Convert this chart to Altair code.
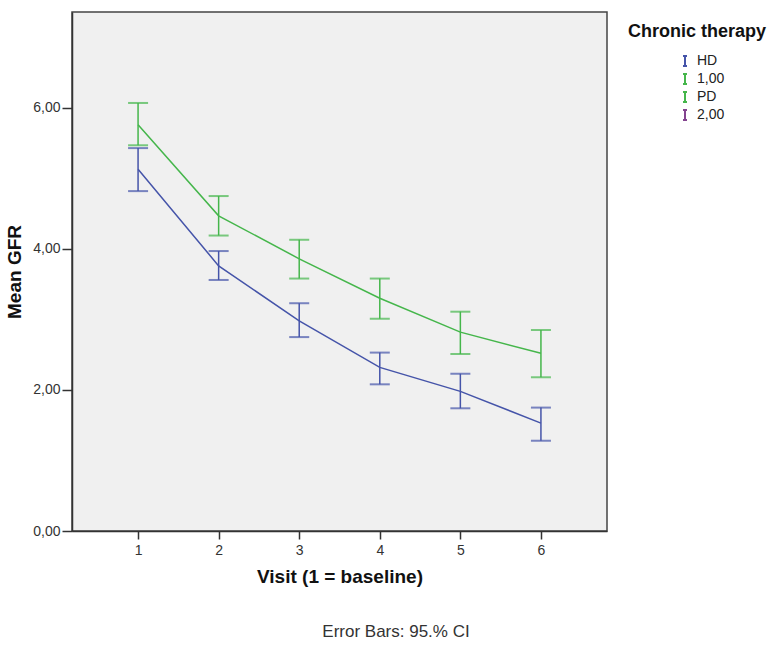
import altair as alt
import pandas as pd

visits = [1, 2, 3, 4, 5, 6]
hd_mean = [5.13, 3.76, 2.98, 2.32, 1.98, 1.53]
hd_lo = [4.82, 3.56, 2.75, 2.08, 1.74, 1.28]
hd_hi = [5.43, 3.97, 3.23, 2.53, 2.23, 1.75]
pd_mean = [5.76, 4.47, 3.86, 3.30, 2.82, 2.52]
pd_lo = [5.47, 4.19, 3.58, 3.01, 2.51, 2.18]
pd_hi = [6.07, 4.75, 4.13, 3.58, 3.11, 2.85]

groups = ["HD", "1,00", "PD", "2,00"]
colors = ["#4554A9", "#45B64B", "#45B64B", "#84448F"]

rows = []
for i, v in enumerate(visits):
    rows.append({"visit": v, "group": "HD", "mean": hd_mean[i], "lo": hd_lo[i], "hi": hd_hi[i]})
    rows.append({"visit": v, "group": "PD", "mean": pd_mean[i], "lo": pd_lo[i], "hi": pd_hi[i]})
df = pd.DataFrame(rows)

W, H = 535, 519

xscale = alt.Scale(domain=[0.18, 6.82], nice=False, zero=False)
yscale = alt.Scale(domain=[0, 7.36], nice=False)
cscale = alt.Scale(domain=groups, range=colors)

x = alt.X("visit:Q", scale=xscale,
          axis=alt.Axis(values=visits, format="d", title="Visit (1 = baseline)",
                        grid=False, tickSize=8, labelPadding=4, titlePadding=10,
                        labelFontSize=14))
y = alt.Y("mean:Q", scale=yscale,
          axis=alt.Axis(values=[0, 2, 4, 6], grid=False, tickSize=10, labelPadding=2,
                        labelExpr="replace(format(datum.value, '.2f'), '.', ',')",
                        title="Mean GFR", titlePadding=8, labelFontSize=14))

base = alt.Chart(df)

lines = base.mark_line(strokeWidth=1.5).encode(
    x=x, y=y,
    color=alt.Color("group:N", scale=cscale,
                    legend=alt.Legend(title=None, orient="none", legendX=606, legendY=42,
                                      symbolType="M-0.4,-1H0.4M0,-1V1M-0.4,1H0.4",
                                      symbolSize=100, symbolStrokeWidth=2,
                                      symbolFillColor="transparent",
                                      labelFontSize=14, labelFont="Liberation Sans",
                                      labelColor="#222", rowPadding=0, labelOffset=5)),
    detail="group:N",
)

rules = base.mark_rule(strokeWidth=1.5).encode(
    x="visit:Q",
    y=alt.Y("lo:Q", scale=yscale),
    y2="hi:Q",
    color=alt.Color("group:N", scale=cscale, legend=None),
)

caps_lo = base.mark_tick(orient="horizontal", size=20, thickness=2).encode(
    x="visit:Q",
    y=alt.Y("lo:Q", scale=yscale),
    color=alt.Color("group:N", scale=cscale, legend=None),
)
caps_hi = base.mark_tick(orient="horizontal", size=20, thickness=2).encode(
    x="visit:Q",
    y=alt.Y("hi:Q", scale=yscale),
    color=alt.Color("group:N", scale=cscale, legend=None),
)

ann = pd.DataFrame({"t": ["Chronic therapy", "Error Bars: 95.% CI"]})
title_txt = alt.Chart(ann).transform_filter("datum.t == 'Chronic therapy'").mark_text(
    font="Liberation Sans", fontSize=18, fontWeight="bold", align="left", baseline="middle", color="#111"
).encode(text="t:N", x=alt.value(556), y=alt.value(20))
foot_txt = alt.Chart(ann).transform_filter("datum.t != 'Chronic therapy'").mark_text(
    font="Liberation Sans", fontSize=17, align="center", baseline="middle", color="#333"
).encode(text="t:N", x=alt.value(324), y=alt.value(620))

chart = alt.layer(lines, rules, caps_lo, caps_hi, title_txt, foot_txt).properties(
    width=W, height=H,
    autosize=alt.AutoSizeParams(type="none"),
    padding={"left": 72, "top": 12, "right": 175, "bottom": 114},
    background="white",
).configure_view(
    fill="#F0F0F0", stroke="#444", strokeWidth=1.5
).configure_axis(
    domainColor="#333", domainWidth=1.5, tickColor="#333", tickWidth=1.5,
    labelFont="Liberation Sans", labelFontSize=14, labelColor="#333",
    titleFont="Liberation Sans", titleFontSize=19, titleFontWeight="bold", titleColor="#111",
)

chart.save("out.html", embed_options={"renderer": "svg", "actions": False})
